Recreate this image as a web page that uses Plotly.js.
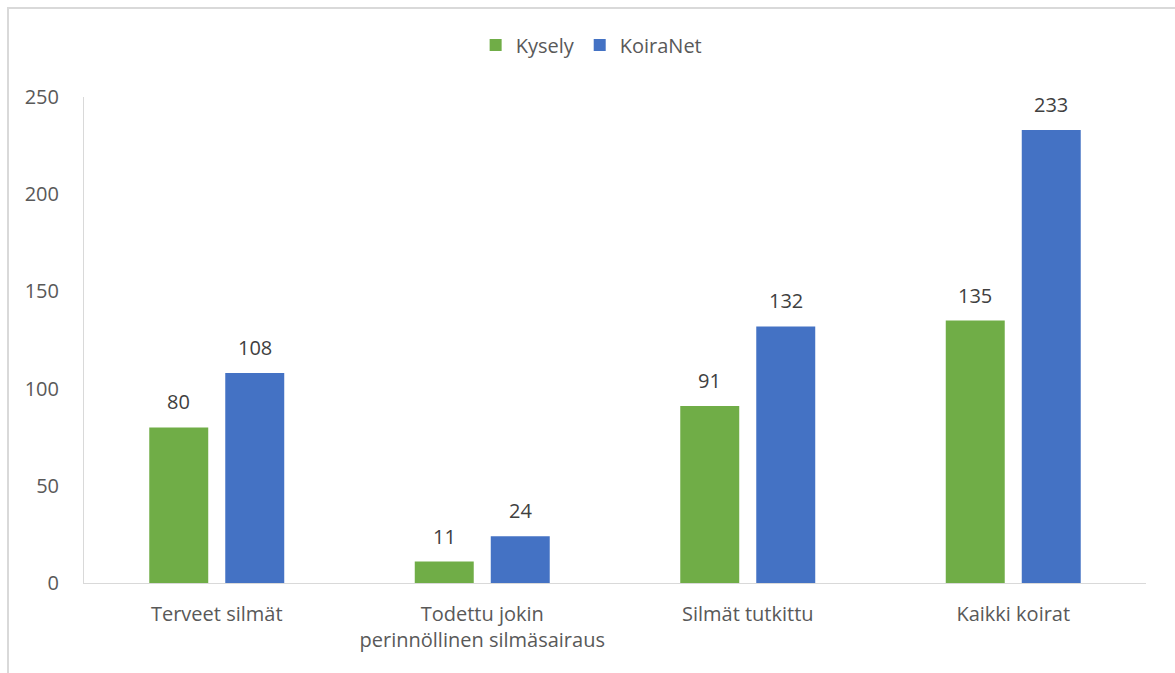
<!DOCTYPE html>
<html>
<head>
<meta charset="utf-8">
<script src="https://cdn.plot.ly/plotly-3.0.1.min.js"></script>
<style>
html,body{margin:0;padding:0;background:#fff;}
#frame{position:absolute;left:7px;top:7px;width:1180px;height:680px;border-top:2px solid #d9d9d9;border-left:2px solid #d9d9d9;box-sizing:border-box;pointer-events:none;z-index:5;}
#chart{position:absolute;left:0;top:0;width:1175px;height:673px;}
</style>
</head>
<body>
<div id="chart"></div>
<div id="frame"></div>
<script>
const categories = ["Terveet silmät", "Todettu jokin<br>perinnöllinen silmäsairaus", "Silmät tutkittu", "Kaikki koirat"];
const kysely = [80, 11, 91, 135];
const koiranet = [108, 24, 132, 233];
const seriesNames = ["Kysely", "KoiraNet"];
const yTicks = [0, 50, 100, 150, 200, 250];

const green = "#70AD47", blue = "#4472C4";
const fontFam = "'Open Sans', 'Noto Sans', sans-serif";
const fs = 20;

const traces = [
  {type: "bar", name: seriesNames[0], x: categories, y: kysely, marker: {color: green}, hoverinfo: "x+y"},
  {type: "bar", name: seriesNames[1], x: categories, y: koiranet, marker: {color: blue}, hoverinfo: "x+y"}
];

const annotations = [];
[[kysely, -38], [koiranet, 38]].forEach(([vals, shift]) => {
  vals.forEach((v, i) => {
    annotations.push({
      x: categories[i], y: v, xref: "x", yref: "y",
      text: String(v), showarrow: false,
      xshift: shift, yshift: 10, yanchor: "bottom",
      font: {family: fontFam, size: fs, color: "#404040"}
    });
  });
});

const layout = {
  width: 1175, height: 673,
  margin: {l: 84, r: 29, t: 97, b: 90},
  paper_bgcolor: "#fff", plot_bgcolor: "#fff",
  font: {family: fontFam, size: fs, color: "#595959"},
  barmode: "group", bargap: 0.4275, bargroupgap: 0.224,
  showlegend: true,
  legend: {orientation: "h", x: 0.478, xanchor: "center", y: 1.107, yanchor: "middle",
           font: {family: fontFam, size: fs, color: "#595959"}, itemwidth: 30, traceorder: "normal"},
  xaxis: {type: "category", showline: true, linecolor: "#d9d9d9", linewidth: 1,
          ticks: "", showgrid: false, zeroline: false, ticklabelstandoff: 13,
          tickfont: {family: fontFam, size: fs, color: "#595959"}, fixedrange: true},
  yaxis: {range: [0, 250], tickvals: yTicks, ticktext: yTicks.map(String), showline: true,
          linecolor: "#d9d9d9", linewidth: 1, showgrid: false, zeroline: false, ticks: "",
          ticklabelstandoff: 20, tickfont: {family: fontFam, size: fs, color: "#595959"}, fixedrange: true},
  annotations: annotations
};

Plotly.newPlot("chart", traces, layout, {displayModeBar: false, staticPlot: true});
</script>
</body>
</html>
